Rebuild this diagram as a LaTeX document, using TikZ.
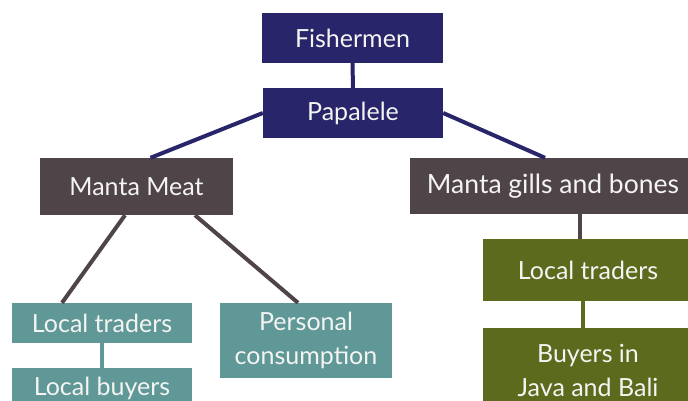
\documentclass[tikz,border=0pt]{standalone}
\usepackage{fontspec}
\setmainfont{Lato}
\usetikzlibrary{positioning,calc}
\definecolor{navyBox}{HTML}{28256A}
\definecolor{meatBrown}{HTML}{4F4448}
\definecolor{tealBox}{HTML}{5F9897}
\definecolor{oliveBox}{HTML}{5C6A1D}
\definecolor{boxText}{HTML}{F4F4F2}
\tikzset{
    tierbox/.style={inner sep=3pt,align=center,text=boxText,
        font=\fontsize{25}{34}\selectfont},
    navybox/.style={tierbox,fill=navyBox},
    brownbox/.style={tierbox,fill=meatBrown},
    tealbox/.style={tierbox,fill=tealBox},
    olivebox/.style={tierbox,fill=oliveBox},
    navyline/.style={draw=navyBox,line width=4pt},
    brownline/.style={draw=meatBrown,line width=4pt},
    tealline/.style={draw=tealBox,line width=4pt},
    oliveline/.style={draw=oliveBox,line width=4pt}
}
\begin{document}
\begin{tikzpicture}[x=1pt,y=-1pt]
        \useasboundingbox (0,0) rectangle (688,400);
        \clip (0,0) rectangle (688,400);
        \fill[white] (0,0) rectangle (688,400);

        % top of the chain
        \node[navybox,minimum width=181pt,minimum height=50pt] (fishermen) at (352.5,38) {Fishermen};
        \node[navybox,minimum width=180pt,minimum height=50pt] (papalele) at (353,113) {Papalele};

        % products
        \node[brownbox,minimum width=193pt,minimum height=57pt] (meat) at (136.5,186.5) {Manta Meat};
        \node[brownbox,minimum width=286pt,minimum height=56pt,
            font=\fontsize{26.5}{34}\selectfont] (gills) at (553,186) {Manta gills and bones};

        % meat branch
        \node[tealbox,minimum width=180pt,minimum height=40pt] (meattraders) at (102,323) {Local traders};
        \node[tealbox,minimum width=180pt,minimum height=40pt] (meatbuyers) at (102,388) {Local buyers};
        \node[tealbox,minimum width=172pt,minimum height=75pt] (personal) at (306,340.5)
            {Personal\\consumption};

        % gills branch
        \node[olivebox,minimum width=210pt,minimum height=62pt] (gilltraders) at (588,270) {Local traders};
        \node[olivebox,minimum width=210pt,minimum height=84pt] (javabali) at (588,370)
            {Buyers in\\Java and Bali};

        \draw[navyline] (fishermen.south) -- (papalele.north);
        \draw[navyline] (papalele.west) -- ([xshift=14pt]meat.north);
        \draw[navyline] (papalele.east) -- ([xshift=-8pt]gills.north);

        \draw[brownline] ([xshift=-11.5pt]meat.south) -- ([xshift=-40pt]meattraders.north);
        \draw[brownline] ([xshift=58.5pt]meat.south) -- ([xshift=-8pt]personal.north);
        \draw[tealline] (meattraders.south) -- (meatbuyers.north);

        \coordinate (gilldrop) at ([xshift=-8pt]gilltraders.north);
        \draw[brownline] (gilldrop |- gills.south) -- (gilldrop);
        \draw[oliveline] ([xshift=-5pt]gilltraders.south) -- ([xshift=-5pt]javabali.north);
    \end{tikzpicture}
\end{document}
